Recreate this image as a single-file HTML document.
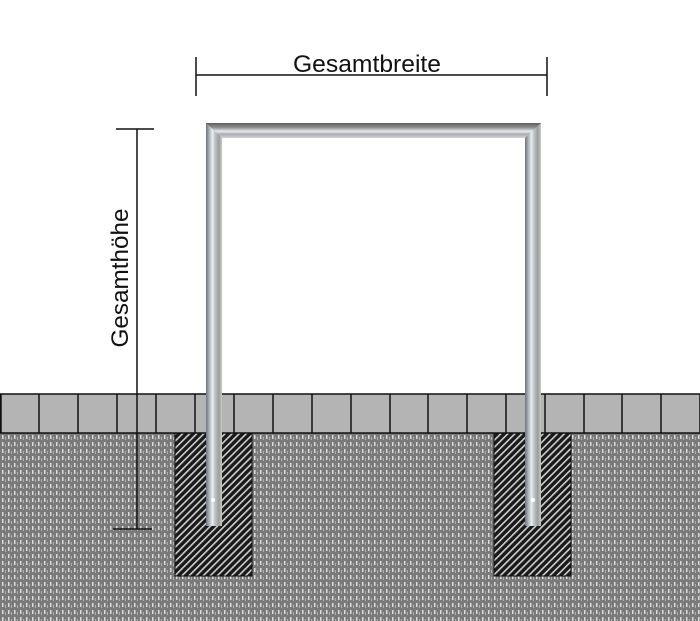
<!DOCTYPE html>
<html><head><meta charset="utf-8"><style>
html,body{margin:0;padding:0;background:#fff;}
svg{display:block;}
text{font-family:"Liberation Sans",sans-serif;}
</style></head><body>
<svg width="700" height="621" viewBox="0 0 700 621" xmlns="http://www.w3.org/2000/svg">
<defs>
<pattern id="dots" width="6" height="7" patternUnits="userSpaceOnUse">
<rect width="6" height="7" fill="#7a7a7a"/>
<rect x="2" y="1" width="1.5" height="4" fill="#dcdcdc"/>
<rect x="5" y="3" width="1" height="3" fill="#b0b0b0"/>
</pattern>
<pattern id="hatch" width="5" height="5" patternUnits="userSpaceOnUse" patternTransform="rotate(45)">
<rect width="5" height="5" fill="#1a1a1a"/>
<rect width="1.6" height="5" fill="#cfcfcf"/>
</pattern>
<linearGradient id="pipeV" x1="0" x2="1" y1="0" y2="0">
<stop offset="0" stop-color="#6e7378"/>
<stop offset="0.2" stop-color="#a9b0b6"/>
<stop offset="0.4" stop-color="#e8eef2"/>
<stop offset="0.55" stop-color="#c0c6ca"/>
<stop offset="0.8" stop-color="#9a9f9a"/>
<stop offset="1" stop-color="#c8cbc4"/>
</linearGradient>
<linearGradient id="pipeH" x1="0" x2="0" y1="0" y2="1">
<stop offset="0" stop-color="#5e5e5e"/>
<stop offset="0.3" stop-color="#8d8f91"/>
<stop offset="0.55" stop-color="#e6ebee"/>
<stop offset="0.75" stop-color="#a9aeb2"/>
<stop offset="1" stop-color="#d0d4d6"/>
</linearGradient>
</defs>
<rect x="0" y="433" width="700" height="188" fill="url(#dots)"/>
<rect x="175" y="433" width="77" height="143" fill="url(#hatch)" stroke="#111" stroke-width="1"/>
<rect x="494" y="433" width="77" height="143" fill="url(#hatch)" stroke="#111" stroke-width="1"/>
<rect x="0" y="394" width="700" height="39" fill="#b4b4b4" stroke="#111" stroke-width="1.5"/>
<g stroke="#111" stroke-width="1.5">
<line x1="1" y1="394" x2="1" y2="433"/>
<line x1="39" y1="394" x2="39" y2="433"/>
<line x1="78" y1="394" x2="78" y2="433"/>
<line x1="117" y1="394" x2="117" y2="433"/>
<line x1="156" y1="394" x2="156" y2="433"/>
<line x1="195" y1="394" x2="195" y2="433"/>
<line x1="234" y1="394" x2="234" y2="433"/>
<line x1="273" y1="394" x2="273" y2="433"/>
<line x1="312" y1="394" x2="312" y2="433"/>
<line x1="351" y1="394" x2="351" y2="433"/>
<line x1="390" y1="394" x2="390" y2="433"/>
<line x1="428" y1="394" x2="428" y2="433"/>
<line x1="467" y1="394" x2="467" y2="433"/>
<line x1="506" y1="394" x2="506" y2="433"/>
<line x1="545" y1="394" x2="545" y2="433"/>
<line x1="584" y1="394" x2="584" y2="433"/>
<line x1="622" y1="394" x2="622" y2="433"/>
<line x1="661" y1="394" x2="661" y2="433"/>
</g>
<rect x="206" y="123" width="16" height="403" fill="url(#pipeV)"/>
<rect x="525" y="123" width="16" height="403" fill="url(#pipeV)"/>
<polygon points="206,123 541,123 525,138 222,138" fill="url(#pipeH)"/>
<circle cx="213" cy="500" r="2" fill="#fff"/>
<circle cx="533" cy="500" r="2" fill="#fff"/>
<g stroke="#111" stroke-width="1.5">
<line x1="196" y1="75" x2="547" y2="75"/>
<line x1="196" y1="57" x2="196" y2="96"/>
<line x1="547" y1="57" x2="547" y2="96"/>
<line x1="137" y1="129" x2="137" y2="529"/>
<line x1="116" y1="129" x2="154" y2="129"/>
<line x1="113" y1="529" x2="152" y2="529"/>
</g>
<text x="367" y="72" font-size="24" text-anchor="middle" fill="#111" textLength="148" lengthAdjust="spacingAndGlyphs">Gesamtbreite</text>
<text transform="translate(128,278) rotate(-90)" font-size="24" text-anchor="middle" fill="#111" textLength="139" lengthAdjust="spacingAndGlyphs">Gesamthöhe</text>
</svg>
</body></html>
